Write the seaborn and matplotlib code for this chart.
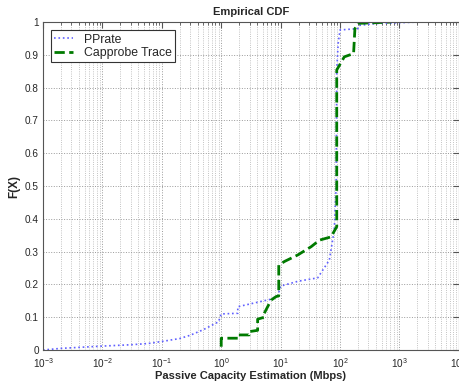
import matplotlib
matplotlib.use("Agg")
import matplotlib.pyplot as plt
import seaborn as sns
import numpy as np
from matplotlib.ticker import LogLocator, NullFormatter

# Data (x in Mbps, y = F(X))
pprate_x = [0.001, 0.002, 0.01, 0.03, 0.06, 0.1, 0.2, 0.3, 0.5, 0.9, 1.0, 1.9, 1.9,
            6.9, 9, 10, 20, 42, 66, 80, 86, 88, 93, 100, 199, 210, 430, 2000]
pprate_y = [0.0, 0.005, 0.012, 0.016, 0.02, 0.026, 0.035, 0.045, 0.062, 0.086, 0.11, 0.112, 0.132,
            0.155, 0.167, 0.195, 0.21, 0.22, 0.274, 0.366, 0.5, 0.854, 0.935, 0.976, 0.98, 0.99, 0.996, 1.0]

capprobe_x = [1.0, 1.0, 1.9, 1.9, 2.95, 2.95, 4.1, 4.1, 5.3, 5.3, 6.9, 8.4, 9.3, 9.3,
              11.6, 19.5, 32.6, 45, 70.5, 88, 88, 118, 169, 178, 199, 720]
capprobe_y = [0.01, 0.036, 0.036, 0.046, 0.046, 0.056, 0.06, 0.094, 0.1, 0.112, 0.152, 0.163, 0.165, 0.259,
              0.27, 0.29, 0.315, 0.335, 0.345, 0.376, 0.854, 0.894, 0.904, 0.98, 0.996, 1.0]

series_labels = ["PPrate", "Capprobe Trace"]
y_ticks = [0, 0.1, 0.2, 0.3, 0.4, 0.5, 0.6, 0.7, 0.8, 0.9, 1]
y_tick_labels = ["0", "0.1", "0.2", "0.3", "0.4", "0.5", "0.6", "0.7", "0.8", "0.9", "1"]

sns.set_style("white")
plt.rcParams["font.family"] = ["Liberation Sans", "DejaVu Sans"]
plt.rcParams["mathtext.fontset"] = "custom"
plt.rcParams["mathtext.rm"] = "Liberation Sans"
plt.rcParams["mathtext.it"] = "Liberation Sans"

fig = plt.figure(figsize=(4.6, 3.84), dpi=100)
ax = fig.add_axes([0.0935, 0.0885, 0.904, 0.854])

sns.lineplot(x=pprate_x, y=pprate_y, sort=False, estimator=None, ax=ax,
             color="#6060ff", linestyle=":", linewidth=1.2, label=series_labels[0])
sns.lineplot(x=capprobe_x, y=capprobe_y, sort=False, estimator=None, ax=ax,
             color="#007a00", linestyle="--", linewidth=2.0, dashes=(2.5, 1.5), label=series_labels[1])

ax.set_xscale("log")
ax.set_xlim(1e-3, 1e4)
ax.set_ylim(0, 1)
ax.set_yticks(y_ticks)
ax.set_yticklabels(y_tick_labels)
ax.xaxis.set_major_locator(LogLocator(base=10, numticks=20))
ax.xaxis.set_minor_locator(LogLocator(base=10, subs=np.arange(2, 10), numticks=100))
ax.xaxis.set_minor_formatter(NullFormatter())

ax.grid(True, which="major", axis="both", linestyle=":", color="#9a9a9a", linewidth=0.7)
ax.grid(True, which="minor", axis="x", linestyle=":", color="#b0b0b0", linewidth=0.6)

ax.tick_params(which="both", direction="in", top=True, right=True, labelsize=7.2,
               color="#555555")
ax.tick_params(which="major", length=4)
ax.tick_params(axis="x", which="major", pad=4.5)
ax.tick_params(axis="y", which="major", pad=3)
ax.tick_params(which="minor", length=2)
for s in ax.spines.values():
    s.set_color("#555555")
    s.set_linewidth(0.8)

ax.set_title("Empirical CDF", fontsize=8, fontweight="bold", pad=5)
ax.set_xlabel("Passive Capacity Estimation (Mbps)", fontsize=8, fontweight="bold", labelpad=1)
ax.set_ylabel("F(X)", fontsize=8.5, fontweight="bold", labelpad=3)

leg = ax.legend(loc="upper left", fontsize=8.8, frameon=True, fancybox=False,
                edgecolor="#333333", framealpha=1, borderpad=0.25, labelspacing=0.15,
                handlelength=1.5, handletextpad=0.9, bbox_to_anchor=(0.005, 0.993))
leg.get_frame().set_linewidth(0.8)

fig.savefig("out.png", dpi=100)
